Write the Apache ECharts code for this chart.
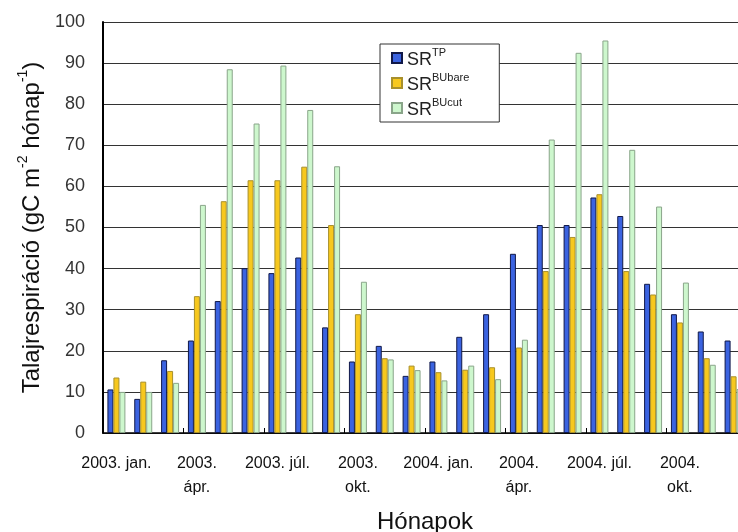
<!DOCTYPE html>
<html>
<head>
<meta charset="utf-8">
<script src="https://cdn.jsdelivr.net/npm/echarts@6/dist/echarts.min.js"></script>
<style>
html,body{margin:0;padding:0;background:#fff;}
#c{width:738px;height:532px;}
</style>
</head>
<body>
<div id="c"></div>
<script>
var categories = [
  '2003. jan.','2003. febr.','2003. márc.','2003.\nápr.','2003. máj.','2003. jún.',
  '2003. júl.','2003. aug.','2003. szept.','2003.\nokt.','2003. nov.','2003. dec.',
  '2004. jan.','2004. febr.','2004. márc.','2004.\nápr.','2004. máj.','2004. jún.',
  '2004. júl.','2004. aug.','2004. szept.','2004.\nokt.','2004. nov.','2004. dec.'
];
var srTP = [10.6, 8.3, 17.7, 22.5, 32.1, 40.1, 38.9, 42.7, 25.7, 17.4, 21.2, 13.9,
            17.4, 23.4, 28.9, 43.6, 50.6, 50.6, 57.3, 52.8, 36.3, 28.9, 24.7, 22.5];
var srBUbare = [13.5, 12.5, 15.1, 33.3, 56.4, 61.5, 61.5, 64.8, 50.6, 28.9, 18.2, 16.4,
                14.8, 15.4, 16.0, 20.8, 39.4, 47.7, 58.1, 39.4, 33.7, 26.9, 18.2, 13.8];
var srBUcut = [10.0, 10.0, 12.2, 55.5, 88.5, 75.3, 89.4, 78.6, 64.9, 36.8, 17.9, 15.3,
               12.8, 16.4, 13.1, 22.7, 71.4, 92.5, 95.5, 68.9, 55.1, 36.6, 16.6, 10.7];
var seriesNames = ['SR TP', 'SR BUbare', 'SR BUcut'];
var seriesSup = {'SR TP': 'TP', 'SR BUbare': 'BUbare', 'SR BUcut': 'BUcut'};
var yTicks = [0, 10, 20, 30, 40, 50, 60, 70, 80, 90, 100];

var chart = echarts.init(document.getElementById('c'), null, {renderer: 'canvas'});
var FONT = 'Liberation Sans, Arial, sans-serif';
function barSeries(name, data, fill, border) {
  return {
    name: name, type: 'bar', data: data,
    barGap: '0%', barCategoryGap: '33%',
    itemStyle: {color: fill, borderColor: border, borderWidth: 1},
    emphasis: {disabled: true}
  };
}
chart.setOption({
  animation: false,
  backgroundColor: '#fff',
  textStyle: {fontFamily: FONT},
  grid: {left: 103, top: 22, width: 644, height: 411, outerBoundsMode: 'none', containLabel: false},
  legend: {
    orient: 'vertical', left: 380, top: 44,
    padding: [3, 30, 3, 11], itemGap: 3,
    itemWidth: 10, itemHeight: 10, icon: 'rect',
    borderColor: '#333', borderWidth: 1, backgroundColor: '#fff',
    data: seriesNames,
    formatter: function (n) { return '{b|SR}{s|' + seriesSup[n] + '}'; },
    textStyle: {
      rich: {
        b: {fontSize: 18, color: '#222', fontFamily: FONT, lineHeight: 22, verticalAlign: 'bottom'},
        s: {fontSize: 11, color: '#222', fontFamily: FONT, lineHeight: 12, verticalAlign: 'top'}
      }
    }
  },
  xAxis: {
    type: 'category', data: categories,
    name: 'Hónapok', nameLocation: 'middle', nameGap: 77,
    nameTextStyle: {fontSize: 24, color: '#111', fontFamily: FONT},
    axisLine: {lineStyle: {color: '#000', width: 1.5}},
    axisTick: {show: true, inside: true, length: 5, interval: 2, lineStyle: {color: '#000'}},
    axisLabel: {interval: 2, fontSize: 16, lineHeight: 24, margin: 19, color: '#111', fontFamily: FONT}
  },
  yAxis: {
    type: 'value', min: yTicks[0], max: yTicks[yTicks.length - 1], interval: 10,
    name: '{t|Talajrespiráció (gC m}{s|-2}{t| hónap}{s|-1}{t|)}',
    nameLocation: 'middle', nameGap: 58, nameRotate: 90,
    nameTextStyle: {
      rich: {
        t: {fontSize: 24, color: '#111', fontFamily: FONT, lineHeight: 28, verticalAlign: 'bottom'},
        s: {fontSize: 14, color: '#111', fontFamily: FONT, lineHeight: 14, verticalAlign: 'top'}
      }
    },
    axisLine: {show: true, lineStyle: {color: '#000', width: 2}},
    axisTick: {show: false},
    axisLabel: {fontSize: 18, color: '#333', margin: 18, fontFamily: FONT},
    splitLine: {lineStyle: {color: '#333', width: 1}}
  },
  series: [
    barSeries(seriesNames[0], srTP, '#3b63e0', '#101848'),
    barSeries(seriesNames[1], srBUbare, '#f7c81e', '#a8902c'),
    barSeries(seriesNames[2], srBUcut, '#cdf7cd', '#8aa58a')
  ]
});
</script>
</body>
</html>
